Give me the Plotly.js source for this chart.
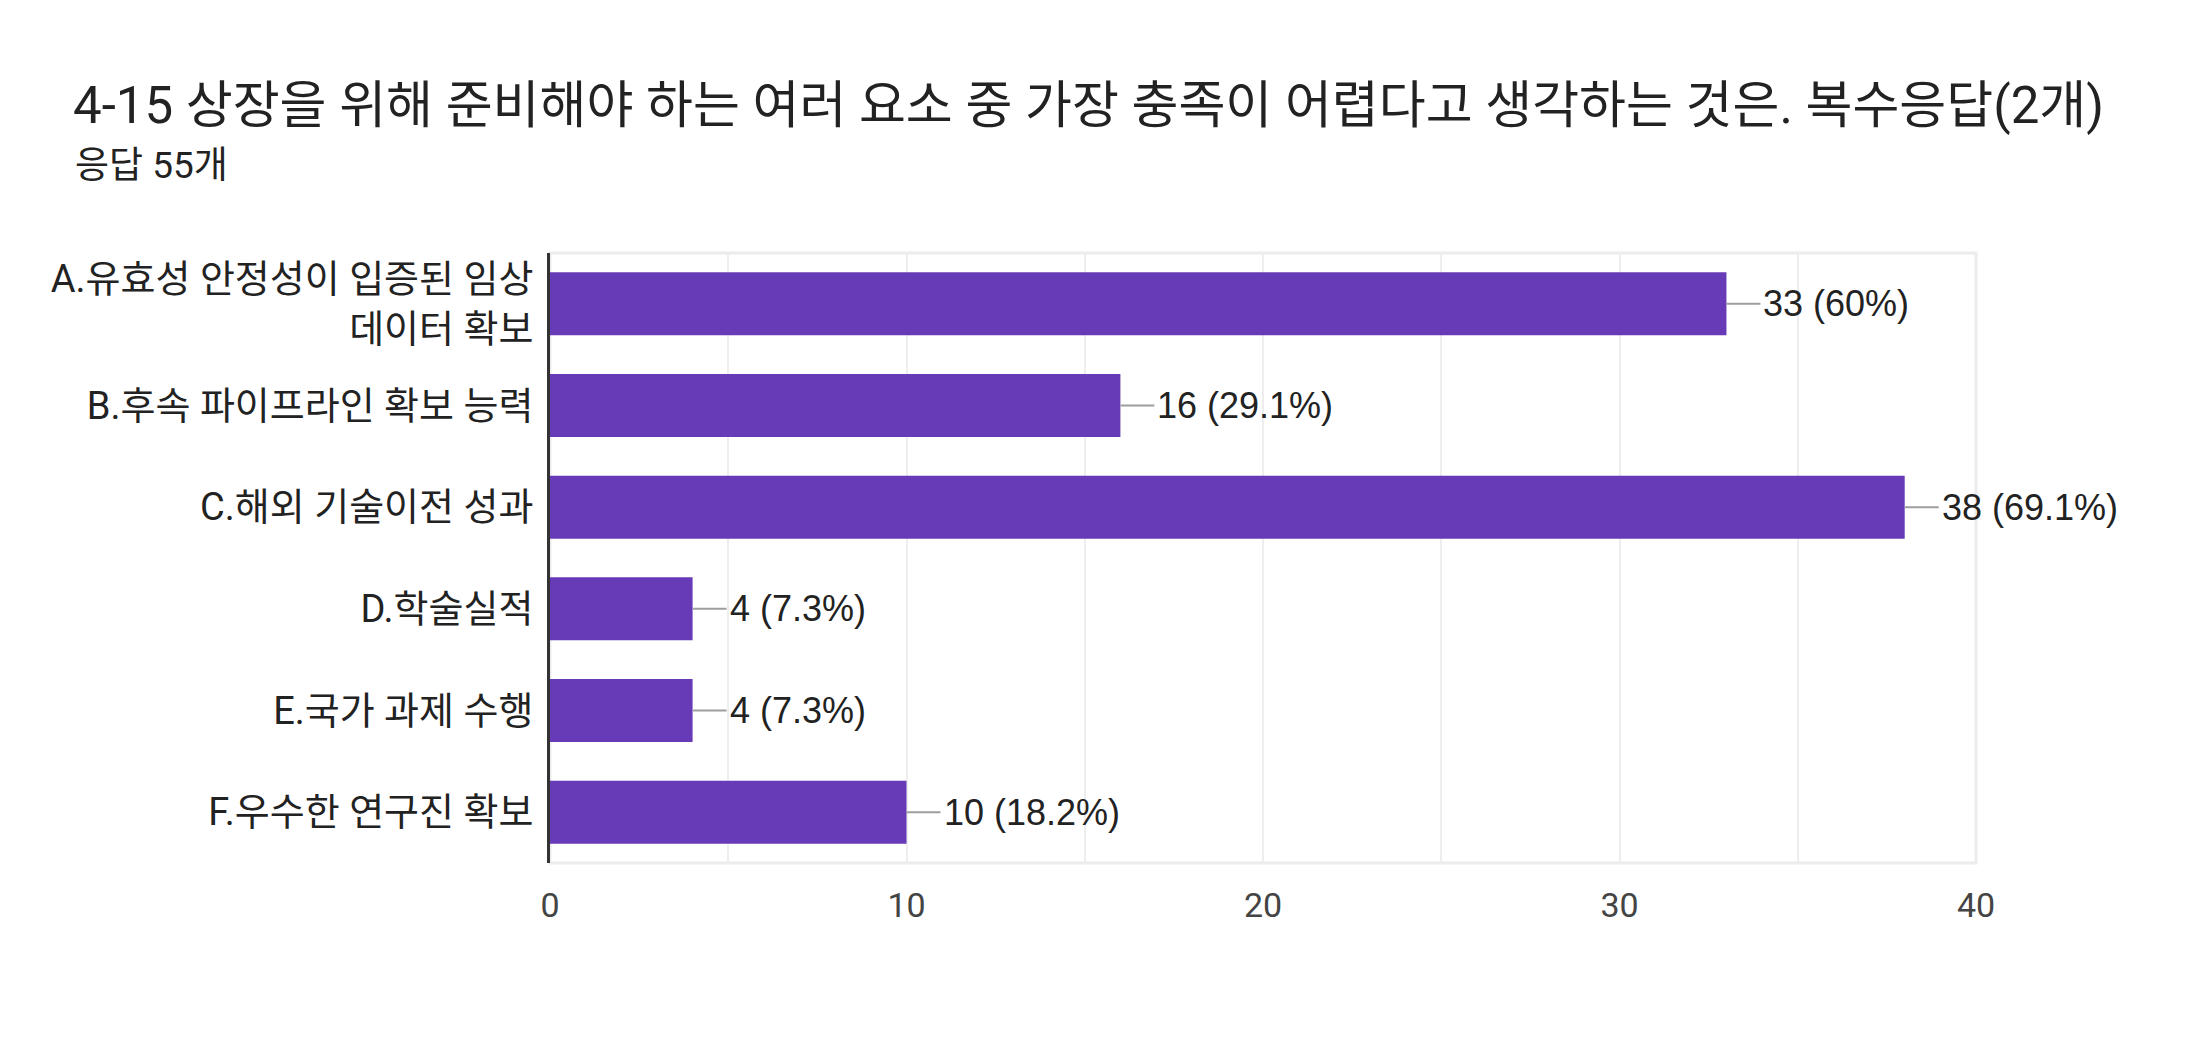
<!DOCTYPE html>
<html><head><meta charset="utf-8">
<script src="https://cdn.plot.ly/plotly-3.0.1.min.js"></script>
<style>html,body{margin:0;padding:0;background:#fff}#chart{width:2196px;height:1044px}</style>
</head><body><div id="chart"></div>
<script>
const titleText = '4-15 상장을 위해 준비해야 하는 여러 요소 중 가장 충족이 어렵다고 생각하는 것은. 복수응답(2개)';
const subtitleText = '응답 55개';
const categories = ['A.유효성 안정성이 입증된 임상<br>데이터 확보', 'B.후속 파이프라인 확보 능력', 'C.해외 기술이전 성과', 'D.학술실적', 'E.국가 과제 수행', 'F.우수한 연구진 확보'];
const counts = [33, 16, 38, 4, 4, 10];
const labels = ['33 (60%)', '16 (29.1%)', '38 (69.1%)', '4 (7.3%)', '4 (7.3%)', '10 (18.2%)'];
const xTicks = [0, 10, 20, 30, 40];

const FONT = 'Roboto, "Noto Sans CJK KR", sans-serif';
const W = 2196, H = 1044;

const shapes = [{type:'rect', xref:'paper', yref:'paper', x0:0, x1:1, y0:0, y1:1, line:{color:'#ececec', width:3}, layer:'below'}];
const annotations = [];
counts.forEach((v, i) => {
  shapes.push({type:'line', xref:'x', yref:'y', xsizemode:'pixel', xanchor:v, x0:0, x1:34, y0:categories[i], y1:categories[i], line:{color:'#9e9e9e', width:2}});
  annotations.push({xref:'x', yref:'y', x:v, y:categories[i], text:labels[i], showarrow:false, xanchor:'left', xshift:35, font:{family:'Arial, "Liberation Sans", sans-serif', size:36, color:'#222'}});
});
annotations.push({xref:'paper', yref:'paper', x:(73-550)/1426, y:1+(253-165)/610, xanchor:'left', yanchor:'middle', text:subtitleText, showarrow:false, font:{family:FONT, size:37, color:'#222'}});

const trace = {type:'bar', orientation:'h', x:counts, y:categories, marker:{color:'#673ab7'}, hoverinfo:'none'};

const layout = {
  width:W, height:H, paper_bgcolor:'#fff', plot_bgcolor:'#fff',
  margin:{l:550, r:220, t:253, b:181},
  bargap:0.38, showlegend:false,
  title:{text:titleText, xref:'container', yref:'container', x:73/W, y:1-105/H, xanchor:'left', yanchor:'middle', font:{family:FONT, size:51, color:'#222'}},
  xaxis:{range:[0,40], tickvals:xTicks, ticks:'', showgrid:true, gridcolor:'#eeeeee', gridwidth:2, zeroline:false, showline:false,
         minor:{dtick:5, tick0:0, showgrid:true, gridcolor:'#eeeeee', gridwidth:2},
         tickfont:{family:FONT, size:34, color:'#444'}, ticklabelstandoff:19, fixedrange:true},
  yaxis:{type:'category', autorange:'reversed', showgrid:false, zeroline:false, showline:true, linecolor:'#333', linewidth:3, ticks:'',
         tickfont:{family:FONT, size:38, color:'#222'}, ticklabelstandoff:6, fixedrange:true},
  shapes:shapes, annotations:annotations
};
Plotly.newPlot('chart', [trace], layout, {displayModeBar:false, staticPlot:true});
</script></body></html>
